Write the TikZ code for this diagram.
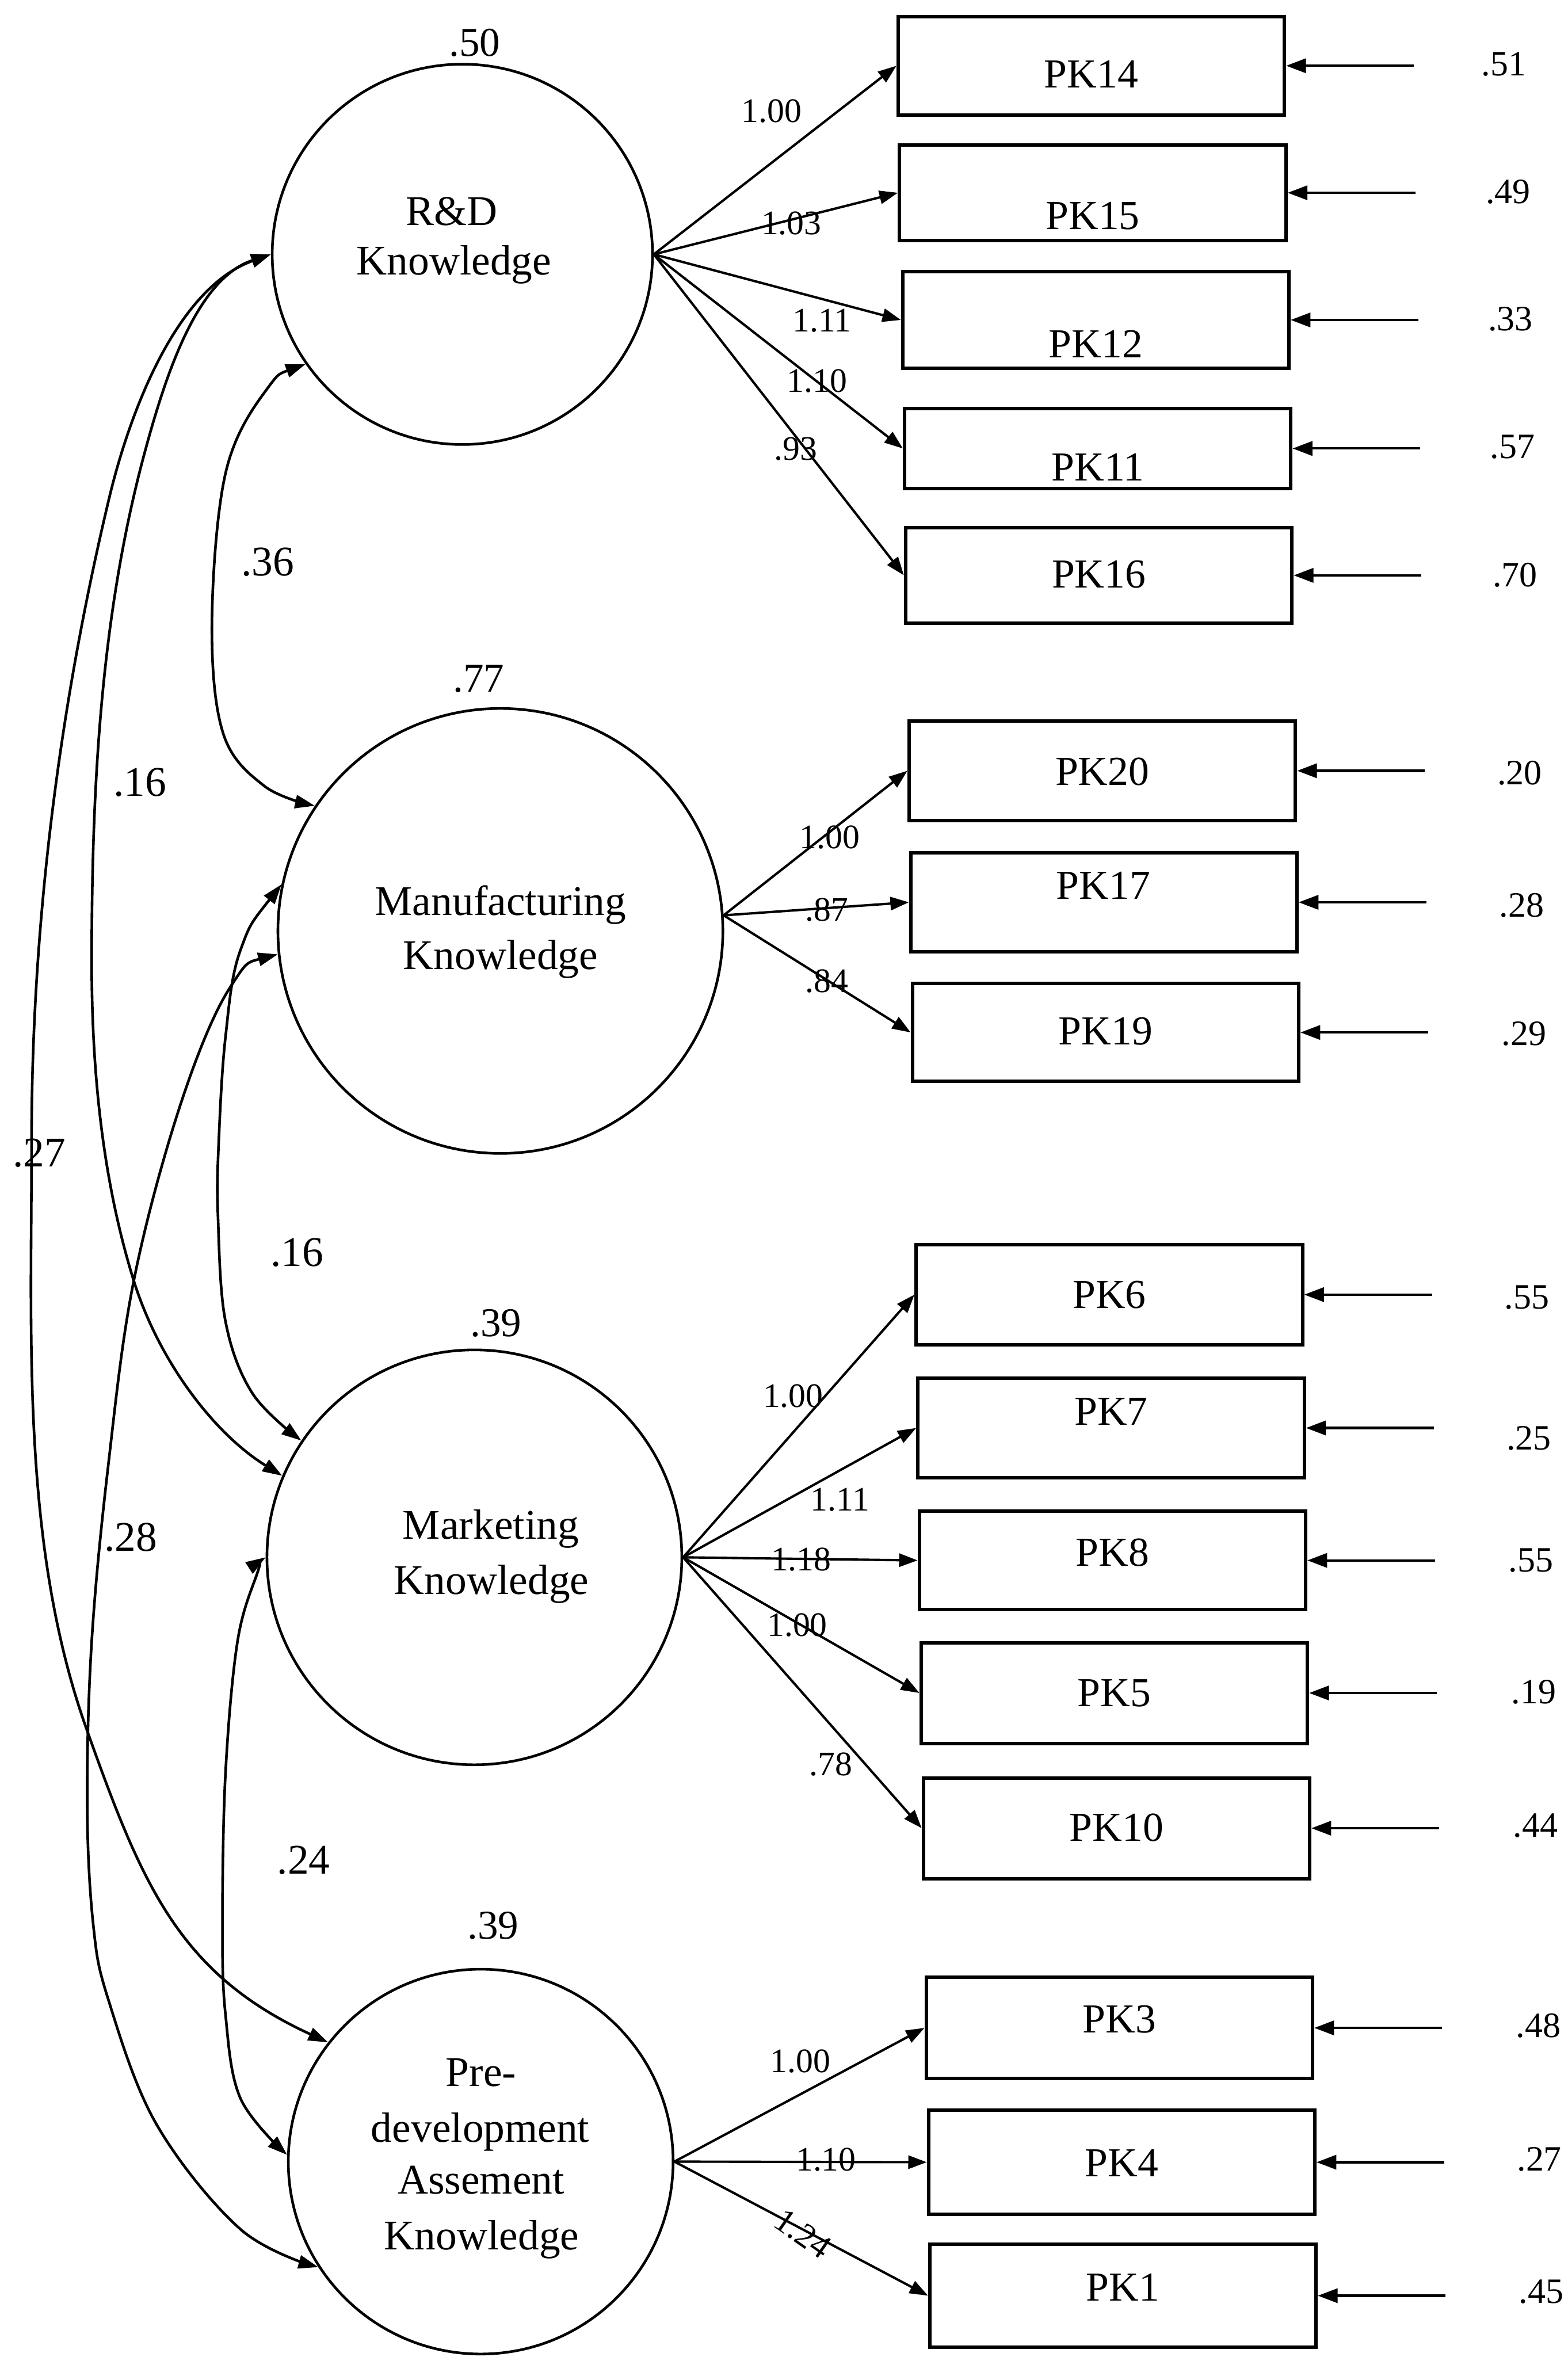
\documentclass[tikz,border=0pt]{standalone}
\usepackage{fontspec}
\setmainfont{Liberation Serif}
\usetikzlibrary{arrows.meta}
\newlength\pxu
\setlength\pxu{0.02cm}
\begin{document}
\begin{tikzpicture}[
  x=0.02cm, y=-0.02cm,
  latent/.style={circle, draw, line width=1pt, inner sep=0pt, minimum size=#1},
  obs/.style={rectangle, draw, line width=1.3pt, inner sep=0pt, minimum width=257\pxu, minimum height=#1},
  lattext/.style={anchor=base, inner sep=0pt, font=\fontsize{16}{19}\selectfont},
  obstext/.style={anchor=base, inner sep=0pt, font=\fontsize{15.6}{18}\selectfont},
  loadlbl/.style={anchor=base, inner sep=0pt, font=\fontsize{13}{15}\selectfont},
  errlbl/.style={anchor=base, inner sep=0pt, font=\fontsize{13.5}{16}\selectfont},
  varlbl/.style={anchor=base, inner sep=0pt, font=\fontsize{15.5}{18}\selectfont},
  corlbl/.style={anchor=base, inner sep=0pt, font=\fontsize{16}{19}\selectfont},
  loading/.style={line width=0.9pt, -{Triangle[length=7pt,width=5pt]}},
  errpath/.style={line width=0.9pt, -{Triangle[length=7.5pt,width=5.4pt]}},
  covpath/.style={line width=1pt, {Triangle[length=7.5pt,width=5pt]}-{Triangle[length=7.5pt,width=5pt]}},
]
\path[use as bounding box, fill=white] (0,0) rectangle (1043,1568);

% latent factors
\node[latent=253\pxu] (rd) at (307.6,169.2) {};
\node[latent=296\pxu] (mf) at (332.9,619.3) {};
\node[latent=276\pxu] (mk) at (315.6,1036) {};
\node[latent=256\pxu] (pd) at (319.8,1438) {};

\node[lattext] (rdA) at (300.5,150) {R\&D};
\node[lattext] (rdB) at (302,182.9) {Knowledge};
\node[lattext] (mfA) at (333,608.9) {Manufacturing};
\node[lattext] (mfB) at (333,644.9) {Knowledge};
\node[lattext] (mkA) at (326.5,1024) {Marketing};
\node[lattext] (mkB) at (327,1060.5) {Knowledge};
\node[lattext] (pdA) at (320,1388) {Pre-};
\node[lattext] (pdB) at (319.5,1425) {development};
\node[lattext] (pdC) at (320,1459.5) {Assement};
\node[lattext] (pdD) at (320.5,1496.5) {Knowledge};

% factor variances
\node[varlbl] (rdv) at (315.8,37.2) {.50};
\node[varlbl] (mfv) at (318.4,460.3) {.77};
\node[varlbl] (mkv) at (330,889) {.39};
\node[varlbl] (pdv) at (328,1290) {.39};

% indicators
\node[obs=65.5\pxu] (pk14) at (726,43.75) {};
\node[obs=63.5\pxu] (pk15) at (727,128.25) {};
\node[obs=64.3\pxu] (pk12) at (729,212.85) {};
\node[obs=53.3\pxu] (pk11) at (730.3,298.35) {};
\node[obs=63.5\pxu] (pk16) at (731,382.75) {};
\node[obs=66\pxu] (pk20) at (733.3,512.75) {};
\node[obs=65.5\pxu] (pk17) at (734.3,600.25) {};
\node[obs=65\pxu] (pk19) at (735.5,686.85) {};
\node[obs=66.7\pxu] (pk6) at (738,861.25) {};
\node[obs=66\pxu] (pk7) at (739.2,949.95) {};
\node[obs=65.5\pxu] (pk8) at (740.1,1038.05) {};
\node[obs=67\pxu] (pk5) at (741.3,1126.25) {};
\node[obs=67\pxu] (pk10) at (742.8,1216.2) {};
\node[obs=67.3\pxu] (pk3) at (744.7,1349.05) {};
\node[obs=69\pxu] (pk4) at (746.2,1438.4) {};
\node[obs=68.4\pxu] (pk1) at (747.1,1527.2) {};

\node[obstext] (pk14t) at (726,58.5) {PK14};
\node[obstext] (pk15t) at (727,152.5) {PK15};
\node[obstext] (pk12t) at (729,237.8) {PK12};
\node[obstext] (pk11t) at (730.3,320) {PK11};
\node[obstext] (pk16t) at (731,391) {PK16};
\node[obstext] (pk20t) at (733.3,522.2) {PK20};
\node[obstext] (pk17t) at (734,598.2) {PK17};
\node[obstext] (pk19t) at (735.5,694.8) {PK19};
\node[obstext] (pk6t) at (738,870.3) {PK6};
\node[obstext] (pk7t) at (739.2,948) {PK7};
\node[obstext] (pk8t) at (740.1,1041.8) {PK8};
\node[obstext] (pk5t) at (741.3,1135.4) {PK5};
\node[obstext] (pk10t) at (742.8,1224.7) {PK10};
\node[obstext] (pk3t) at (744.7,1352.3) {PK3};
\node[obstext] (pk4t) at (746.2,1448) {PK4};
\node[obstext] (pk1t) at (747.1,1530.5) {PK1};

% loadings
\draw[loading] (rd.east) -- (pk14.west);
\draw[loading] (rd.east) -- (pk15.west);
\draw[loading] (rd.east) -- (pk12.west);
\draw[loading] (rd.east) -- (pk11.west);
\draw[loading] (rd.east) -- (pk16.west);
\draw[loading] (mf.4) -- (pk20.west);
\draw[loading] (mf.4) -- (pk17.west);
\draw[loading] (mf.4) -- (pk19.west);
\draw[loading] (mk.east) -- (pk6.west);
\draw[loading] (mk.east) -- (pk7.west);
\draw[loading] (mk.east) -- (pk8.west);
\draw[loading] (mk.east) -- (pk5.west);
\draw[loading] (mk.east) -- (pk10.west);
\draw[loading] (pd.east) -- (pk3.west);
\draw[loading] (pd.east) -- (pk4.west);
\draw[loading] (pd.east) -- (pk1.west);

\node[loadlbl] (l14) at (513.4,81.4) {1.00};
\node[loadlbl] (l15) at (526.5,156) {1.03};
\node[loadlbl] (l12) at (546.8,220.7) {1.11};
\node[loadlbl] (l11) at (543.6,260.7) {1.10};
\node[loadlbl] (l16) at (529.4,306.2) {.93};
\node[loadlbl] (l20) at (552,564.6) {1.00};
\node[loadlbl] (l17) at (550,612.7) {.87};
\node[loadlbl] (l19) at (550,660) {.84};
\node[loadlbl] (l6) at (527.6,936) {1.00};
\node[loadlbl] (l7) at (558.9,1005) {1.11};
\node[loadlbl] (l8) at (533,1045) {1.18};
\node[loadlbl] (l5) at (530.4,1088.5) {1.00};
\node[loadlbl] (l10) at (552.8,1181) {.78};
\node[loadlbl] (l3) at (532.5,1378.6) {1.00};
\node[loadlbl] (l4) at (549.5,1444) {1.10};
\node[loadlbl, anchor=center, rotate=-35] (l1) at (534,1486) {1.24};

% measurement errors
\foreach \b in {pk14,pk15,pk12,pk11,pk16,pk20,pk17,pk19,pk6,pk7,pk8,pk5,pk10,pk3,pk4,pk1}
  \draw[errpath] ([xshift=85\pxu]\b.east) -- (\b.east);

\node[errlbl] (e14) at (1000.5,50.5) {.51};
\node[errlbl] (e15) at (1003.4,135.2) {.49};
\node[errlbl] (e12) at (1004.8,219.9) {.33};
\node[errlbl] (e11) at (1006.2,304.8) {.57};
\node[errlbl] (e16) at (1007.9,390.3) {.70};
\node[errlbl] (e20) at (1011,522.1) {.20};
\node[errlbl] (e17) at (1012.4,609.9) {.28};
\node[errlbl] (e19) at (1013.9,695.5) {.29};
\node[errlbl] (e6) at (1015.8,870.6) {.55};
\node[errlbl] (e7) at (1017.1,964.6) {.25};
\node[errlbl] (e8) at (1018.4,1045.6) {.55};
\node[errlbl] (e5) at (1020.3,1133.4) {.19};
\node[errlbl] (e10) at (1021.6,1222.2) {.44};
\node[errlbl] (e3) at (1023.5,1355.5) {.48};
\node[errlbl] (e4) at (1024.1,1444.2) {.27};
\node[errlbl] (e1) at (1025.4,1532.3) {.45};

% factor covariances
\draw[covpath] plot[smooth, tension=0.6] coordinates
  {(rd.215) (176,261) (150,315) (141,414) (148.5,488) (176,523) (mf.146)};
\draw[covpath] (rd.180)
  .. controls (130.6,185.4) and (109.8,250.8) .. (96,302)
  .. controls (66.6,411.2) and (61,527) .. (61,640)
  .. controls (61,711) and (67.9,784.2) .. (89,852)
  .. controls (105.3,904.5) and (141.7,953.3) .. (mk.157);
\draw[covpath] (rd.180)
  .. controls (119,191) and (87,270) .. (72,334)
  .. controls (39,473) and (21,617) .. (21,760)
  .. controls (21,890) and (14,1027.5) .. (57.5,1150)
  .. controls (94.4,1253.6) and (118.8,1313) .. (pd.142);
\draw[covpath] plot[smooth, tension=0.6] coordinates
  {(mf.168) (160,632) (150,690) (145.5,760) (145,809) (150,879) (168,927) (mk.146)};
\draw[covpath] plot[smooth, tension=0.6] coordinates
  {(mf.186) (153,657) (120,735) (89,852) (72,975) (61,1092) (58,1200) (62,1280) (72,1330) (104,1413) (160,1483) (pd.213)};
\draw[covpath] plot[smooth, tension=0.6] coordinates
  {(mk.180) (171,1047) (158,1092) (150,1180) (148,1280) (150,1340) (160,1396) (pd.178)};

\node[corlbl] (c1) at (178,383) {.36};
\node[corlbl] (c2) at (93,529.8) {.16};
\node[corlbl] (c3) at (26,776) {.27};
\node[corlbl] (c4) at (197.6,842.3) {.16};
\node[corlbl] (c5) at (87,1032) {.28};
\node[corlbl] (c6) at (202,1246.5) {.24};
\end{tikzpicture}
\end{document}
